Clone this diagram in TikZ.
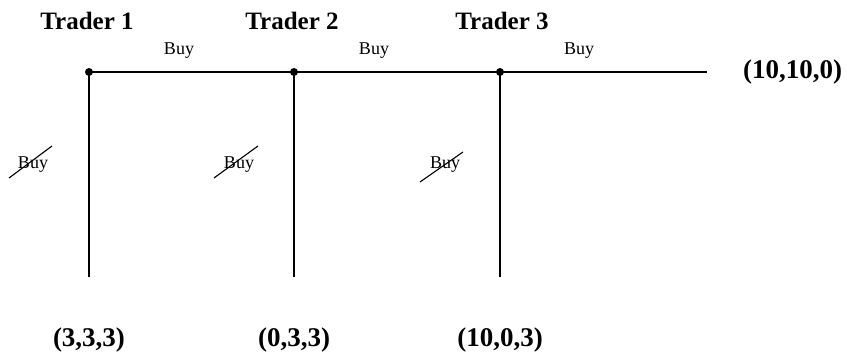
\documentclass[tikz,border=0pt]{standalone}
\usepackage{fontspec}
\setmainfont{Liberation Serif}
\begin{document}
\begin{tikzpicture}[x=1pt,y=-1pt,
  trader/.style={font=\fontsize{25}{29}\selectfont\bfseries, inner sep=0pt, anchor=base},
  payoff/.style={font=\fontsize{27}{31}\selectfont\bfseries, inner sep=0pt, anchor=base},
  act/.style={font=\fontsize{18}{22}\selectfont, inner sep=0pt, anchor=base},
  dot/.style={circle, fill=black, inner sep=0pt, minimum size=8pt},
  edge/.style={line width=1.2pt},
  strike/.style={line width=1.1pt}]
\useasboundingbox (0,0) rectangle (847,352);

% decision points
\node[dot] (d1) at (89,72) {};
\node[dot] (d2) at (294,72) {};
\node[dot] (d3) at (500,72) {};
\coordinate (e0) at (707,72);
\coordinate (l1) at (89,277);
\coordinate (l2) at (294,277);
\coordinate (l3) at (500,277);

% main path and exits
\draw[edge] (d1.center) -- (d2.center) -- (d3.center) -- (e0);
\draw[edge] (d1.center) -- (l1);
\draw[edge] (d2.center) -- (l2);
\draw[edge] (d3.center) -- (l3);

% player names
\node[trader] (t1) at (87,30) {Trader 1};
\node[trader] (t2) at (292,30) {Trader 2};
\node[trader] (t3) at (502,30) {Trader 3};

% actions along the path
\node[act] (b1) at (179,55) {Buy};
\node[act] (b2) at (374,55) {Buy};
\node[act] (b3) at (579,55) {Buy};

% rejected actions
\node[act] (n1) at (33,169) {Buy};
\node[act] (n2) at (239,169) {Buy};
\node[act] (n3) at (445,169) {Buy};
\draw[strike] (9,178) -- (52,146);
\draw[strike] (214,178) -- (258,146);
\draw[strike] (420,182) -- (463,152);

% payoffs
\node[payoff, anchor=base west] (p0) at (743,79) {(10,10,0)};
\node[payoff] (p1) at (89,347) {(3,3,3)};
\node[payoff] (p2) at (294,347) {(0,3,3)};
\node[payoff] (p3) at (500,347) {(10,0,3)};
\end{tikzpicture}
\end{document}
